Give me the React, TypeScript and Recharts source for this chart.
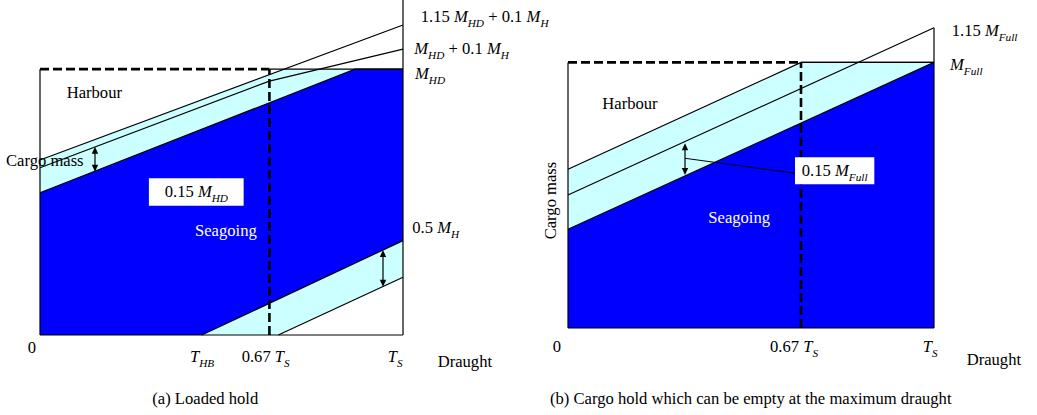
import React from 'react';
import {
  ComposedChart,
  Area,
  Line,
  XAxis,
  YAxis,
  ReferenceLine,
  ReferenceArea,
  ReferenceDot,
} from 'recharts';

// draught as a fraction of T_S, cargo mass as a fraction of M_HD / M_Full
type Pt = [number, number];

// (a) Loaded hold
const aDraught067 = 0.632;
const aHarbourTop: Pt[] = [[0, 0.658], [0.67, 1], [1, 1]];
const aSeagoingTop: Pt[] = [[0, 0.535], [0.868, 1], [1, 1]];
const aHalfMhTop: Pt[] = [[0.4455, 0], [1, 0.355]];
const aHalfMhLow: Pt[] = [[0.6565, 0], [1, 0.217]];
const aLine115: Pt[] = [[0, 0.658], [1, 1.166]];
const aLine100: Pt[] = [[0, 0.629], [0.632, 0.955], [1, 1.075]];

// (b) Cargo hold which can be empty at the maximum draught
const bDraught067 = 0.6366;
const bHarbourTop: Pt[] = [[0, 0.5975], [0.6366, 1], [1, 1]];
const bSeagoingTop: Pt[] = [[0, 0.3716], [1, 1]];
const bLine115: Pt[] = [[0, 0.5008], [1, 1.1306]];

// text: M_{HD} means italic M with italic subscript HD
type Note = { text: string; x: number; y: number; anchor?: 'start' | 'middle' | 'end'; fill?: string; rotate?: number };

const aNotes: Note[] = [
  { text: 'Harbour', x: 0.0736, y: 0.8925 },
  { text: 'Cargo mass', x: -0.0937, y: 0.637 },
  { text: '0.15 M_{HD}', x: 0.4307, y: 0.52, anchor: 'middle' },
  { text: 'Seagoing', x: 0.427, y: 0.3735, fill: '#ffffff' },
  { text: '0.5 M_{H}', x: 1.0256, y: 0.3825 },
  { text: '1.15 M_{HD} + 0.1 M_{H}', x: 1.0488, y: 1.178 },
  { text: 'M_{HD} + 0.1 M_{H}', x: 1.031, y: 1.056 },
  { text: 'M_{HD}', x: 1.033, y: 0.962 },
  { text: '0', x: -0.0339, y: -0.0688 },
  { text: 'T_{HB}', x: 0.4132, y: -0.1004 },
  { text: '0.67 T_{S}', x: 0.5556, y: -0.1004 },
  { text: 'T_{S}', x: 0.9579, y: -0.1004 },
  { text: 'Draught', x: 1.0956, y: -0.1192 },
  { text: '(a) Loaded hold', x: 0.3094, y: -0.2607 },
];

const bNotes: Note[] = [
  { text: 'Harbour', x: 0.0937, y: 0.8245 },
  { text: 'Cargo mass', x: -0.0328, y: 0.48, anchor: 'middle', rotate: -90 },
  { text: 'Seagoing', x: 0.3833, y: 0.3965, fill: '#ffffff' },
  { text: '0.15 M_{Full}', x: 0.7287, y: 0.5734, anchor: 'middle' },
  { text: '1.15 M_{Full}', x: 1.0484, y: 1.1005 },
  { text: 'M_{Full}', x: 1.0437, y: 0.9714 },
  { text: '0', x: -0.0418, y: -0.0892 },
  { text: '0.67 T_{S}', x: 0.5519, y: -0.0892 },
  { text: 'T_{S}', x: 0.9691, y: -0.0892 },
  { text: 'Draught', x: 1.0893, y: -0.1393 },
  { text: '(b) Cargo hold which can be empty at the maximum draught', x: -0.0492, y: -0.2861 },
];

const FONT = '"Liberation Serif", "Times New Roman", serif';
const SIZE = 16.6;
const CYAN = '#ccffff';
const BLUE = '#0000ff';

const buildTable = (series: Record<string, Pt[]>) => {
  const rows = new Map<number, any>();
  Object.entries(series).forEach(([key, pts]) => {
    pts.forEach(([x, y]) => {
      const row = rows.get(x) ?? { x };
      row[key] = y;
      rows.set(x, row);
    });
  });
  return [...rows.values()].sort((p, q) => p.x - q.x);
};

const aTable = buildTable({
  harbour: aHarbourTop,
  seagoing: aSeagoingTop,
  halfTop: aHalfMhTop,
  halfLow: aHalfMhLow,
  l115: aLine115,
  l100: aLine100,
});

const bTable = buildTable({
  harbour: bHarbourTop,
  seagoing: bSeagoingTop,
  l115: bLine115,
});

const mathParts = (s: string) => {
  const parts: React.ReactNode[] = [];
  const re = /([A-Z])_\{([^}]+)\}/g;
  const shift = 5;
  let last = 0;
  let k = 0;
  let down = false;
  let m: RegExpExecArray | null;
  while ((m = re.exec(s))) {
    if (m.index > last) {
      parts.push(<tspan key={k++} dy={down ? -shift : 0}>{s.slice(last, m.index)}</tspan>);
      down = false;
    }
    parts.push(<tspan key={k++} fontStyle="italic" dy={down ? -shift : 0}>{m[1]}</tspan>);
    parts.push(<tspan key={k++} fontStyle="italic" fontSize={SIZE * 0.68} dy={shift}>{m[2]}</tspan>);
    down = true;
    last = re.lastIndex;
  }
  if (last < s.length) parts.push(<tspan key={k++} dy={down ? -shift : 0}>{s.slice(last)}</tspan>);
  return parts;
};

const noteShape = (n: Note) => (p: any) => (
  <text
    x={p.cx}
    y={p.cy}
    textAnchor={n.anchor ?? 'start'}
    fill={n.fill ?? '#000'}
    fontFamily={FONT}
    fontSize={SIZE}
    style={{ whiteSpace: 'pre' }}
    transform={n.rotate ? `rotate(${n.rotate} ${p.cx} ${p.cy})` : undefined}
  >
    {mathParts(n.text)}
  </text>
);

// vertical double headed arrow
const doubleArrow = (p: any) => {
  const { x1, y1, y2 } = p;
  const top = Math.min(y1, y2);
  const bot = Math.max(y1, y2);
  const h = 7;
  const w = 3.2;
  return (
    <g>
      <line x1={x1} y1={top + 3} x2={x1} y2={bot - 3} stroke="#000" strokeWidth={1.2} />
      <polygon points={`${x1},${top} ${x1 - w},${top + h} ${x1 + w},${top + h}`} fill="#000" />
      <polygon points={`${x1},${bot} ${x1 - w},${bot - h} ${x1 + w},${bot - h}`} fill="#000" />
    </g>
  );
};

const seg = (x1: number, y1: number, x2: number, y2: number) => [
  { x: x1, y: y1 },
  { x: x2, y: y2 },
];

const solid = { stroke: '#000', strokeWidth: 1.2, ifOverflow: 'visible' as const, zIndex: 450 };
const dashed = { stroke: '#000', strokeWidth: 2.6, strokeDasharray: '9 4', ifOverflow: 'visible' as const, zIndex: 460 };
const areaProps = { type: 'linear' as const, fillOpacity: 1, connectNulls: true, isAnimationActive: false, activeDot: false, dot: false };

const renderNotes = (notes: Note[]) =>
  notes.map((n, i) => (
    <ReferenceDot key={`n${i}`} x={n.x} y={n.y} r={0} ifOverflow="visible" zIndex={700} shape={noteShape(n)} />
  ));

const PanelA = () => (
  <ComposedChart width={600} height={415} data={aTable} margin={{ top: 0, right: 197, bottom: 80, left: 40 }}>
    <XAxis type="number" dataKey="x" domain={[0, 1]} hide />
    <YAxis type="number" domain={[0, 1.26]} hide />
    <Area dataKey="harbour" {...areaProps} fill={CYAN} stroke="none" zIndex={100} />
    <Area dataKey="seagoing" {...areaProps} fill={BLUE} stroke="#000" strokeWidth={1.2} zIndex={110} />
    <Area dataKey="halfTop" {...areaProps} fill={CYAN} stroke="#000" strokeWidth={1.2} zIndex={120} />
    <Area dataKey="halfLow" {...areaProps} fill="#ffffff" stroke="#000" strokeWidth={1.2} zIndex={130} />
    <Line dataKey="l115" type="linear" stroke="#000" strokeWidth={1.2} dot={false} activeDot={false} connectNulls isAnimationActive={false} zIndex={400} />
    <Line dataKey="l100" type="linear" stroke="#000" strokeWidth={1.2} dot={false} activeDot={false} connectNulls isAnimationActive={false} zIndex={400} />
    <ReferenceLine segment={seg(0, 0, 0, 1)} {...solid} />
    <ReferenceLine segment={seg(0, 0, 1, 0)} {...solid} />
    <ReferenceLine segment={seg(1, 0, 1, 1.26)} {...solid} />
    <ReferenceLine segment={seg(aDraught067, 1, 1, 1)} {...solid} />
    <ReferenceLine segment={seg(0, 1, aDraught067, 1)} {...dashed} />
    <ReferenceLine segment={seg(aDraught067, 0, aDraught067, 1)} {...dashed} />
    <ReferenceArea x1={0.3} x2={0.561} y1={0.4863} y2={0.5894} fill="#ffffff" fillOpacity={1} stroke="none" ifOverflow="visible" zIndex={500} />
    <ReferenceLine segment={seg(0.1515, 0.6142, 0.1515, 0.7082)} ifOverflow="visible" shape={doubleArrow} zIndex={600} />
    <ReferenceLine segment={seg(0.9449, 0.1817, 0.9449, 0.3197)} ifOverflow="visible" shape={doubleArrow} zIndex={600} />
    {renderNotes(aNotes)}
  </ComposedChart>
);

const PanelB = () => (
  <ComposedChart width={517} height={415} data={bTable} margin={{ top: 0, right: 103, bottom: 87, left: 48 }}>
    <XAxis type="number" dataKey="x" domain={[0, 1]} hide />
    <YAxis type="number" domain={[0, 1.235]} hide />
    <Area dataKey="harbour" {...areaProps} fill={CYAN} stroke="#000" strokeWidth={1.2} zIndex={100} />
    <Area dataKey="seagoing" {...areaProps} fill={BLUE} stroke="#000" strokeWidth={1.2} zIndex={110} />
    <Line dataKey="l115" type="linear" stroke="#000" strokeWidth={1.2} dot={false} activeDot={false} connectNulls isAnimationActive={false} zIndex={400} />
    <ReferenceLine segment={seg(0, 0, 0, 1)} {...solid} />
    <ReferenceLine segment={seg(0, 0, 1, 0)} {...solid} />
    <ReferenceLine segment={seg(1, 0, 1, 1.1306)} {...solid} />
    <ReferenceLine segment={seg(bDraught067, 1, 1, 1)} {...solid} />
    <ReferenceLine segment={seg(0, 1, bDraught067, 1)} {...dashed} />
    <ReferenceLine segment={seg(bDraught067, 0, bDraught067, 1)} {...dashed} />
    <ReferenceLine segment={seg(0.3197, 0.639, 0.6202, 0.5825)} stroke="#000" strokeWidth={1} ifOverflow="visible" zIndex={480} />
    <ReferenceArea x1={0.6202} x2={0.8369} y1={0.541} y2={0.6427} fill="#ffffff" fillOpacity={1} stroke="none" ifOverflow="visible" zIndex={500} />
    <ReferenceLine segment={seg(0.3197, 0.576, 0.3197, 0.6954)} ifOverflow="visible" shape={doubleArrow} zIndex={600} />
    {renderNotes(bNotes)}
  </ComposedChart>
);

export default function App() {
  return (
    <div style={{ position: 'absolute', left: 0, top: 0, width: 1037, height: 415, background: '#fff' }}>
      <div style={{ position: 'absolute', left: 0, top: 0 }}>
        <PanelA />
      </div>
      <div style={{ position: 'absolute', left: 520, top: 0 }}>
        <PanelB />
      </div>
    </div>
  );
}
